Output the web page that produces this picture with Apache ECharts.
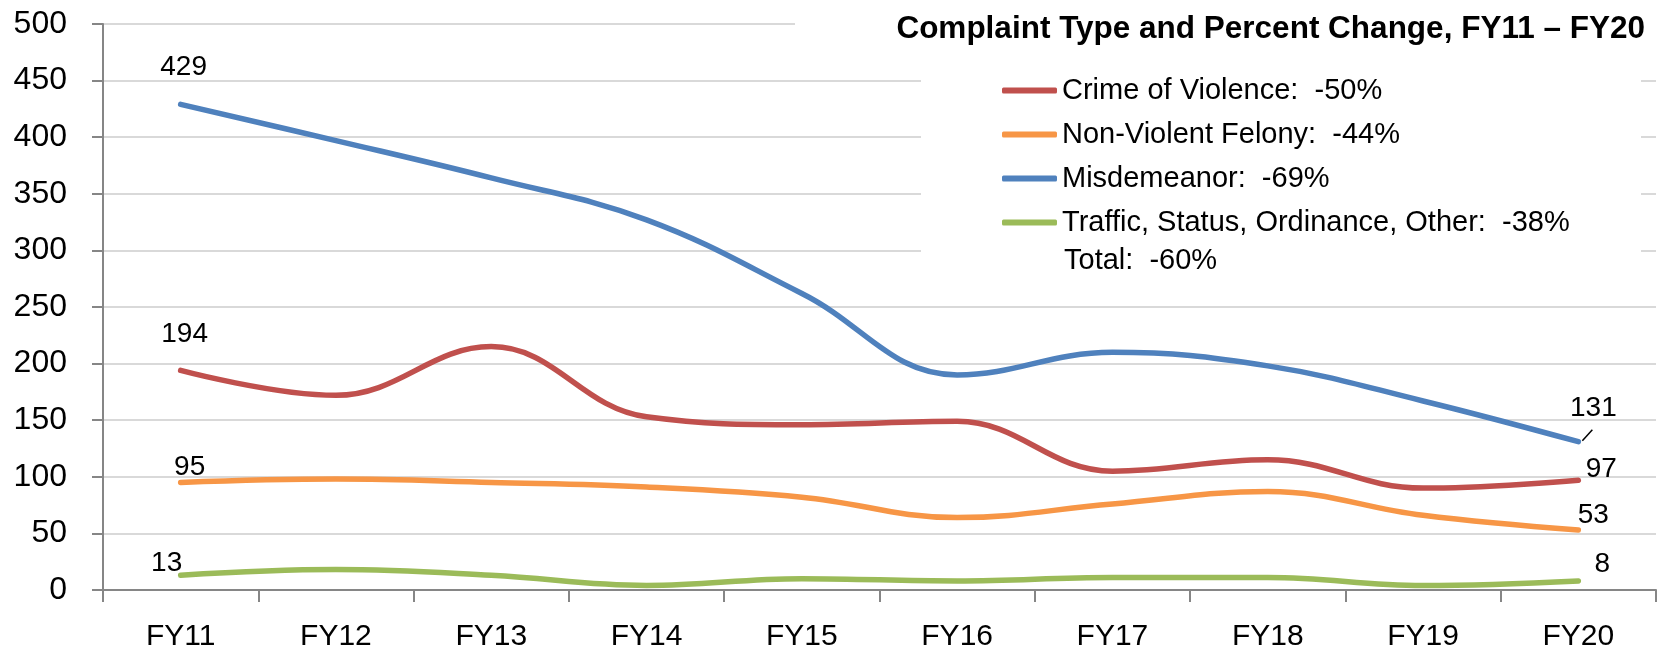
<!doctype html>
<html>
<head>
	<meta charset="UTF-8">
	<title>Complaint Type and Percent Change</title>
	<script src="https://cdn.jsdelivr.net/npm/echarts@6/dist/echarts.min.js"></script>
	<style>
		html, body { margin: 0; padding: 0; background: #fff; }
		#chart { width: 1674px; height: 652px; }
	</style>
</head>
<body>
	<div id="chart"></div>
	<script>
		var years = ['FY11', 'FY12', 'FY13', 'FY14', 'FY15', 'FY16', 'FY17', 'FY18', 'FY19', 'FY20'];
		var yTicks = [0, 50, 100, 150, 200, 250, 300, 350, 400, 450, 500];

		var seriesNames = ['Crime of Violence', 'Non-Violent Felony', 'Misdemeanor', 'Traffic, Status, Ordinance, Other'];
		var pctChange = [-50, -44, -69, -38];
		var totalChange = -60;

		var violence = [194, 172, 215, 153, 146, 149, 105, 115, 90, 97];
		var felony = [95, 98, 95, 91, 82, 64, 76, 87, 66, 53];
		var misdemeanor = [429, 397, 364, 327, 262, 190, 210, 198, 167, 131];
		var traffic = [13, 18, 13, 4, 10, 8, 11, 11, 4, 8];

		var FONT = '"Liberation Sans", Arial, sans-serif';
		var colors = ['#C0504D', '#F79646', '#4F81BD', '#9BBB59'];

		// label offsets for first / last point of each series (label centre relative to the point)
		var labelOffsets = [
			[[4, -36], [23, -11]],
			[[9, -15], [15, -15]],
			[[3, -37], [15, -33]],
			[[-14, -12], [24, -17]]
		];

		function buildData(values, si) {
			var last = values.length - 1;
			return values.map(function(v, i) {
				if (i !== 0 && i !== last) return v;
				return {
					value: v,
					label: {
						show: true,
						position: 'inside',
						offset: labelOffsets[si][i === 0 ? 0 : 1],
						fontSize: 28,
						color: '#000',
						fontFamily: FONT
					}
				};
			});
		}

		var allValues = [violence, felony, misdemeanor, traffic];
		var series = allValues.map(function(vals, si) {
			return {
				name: seriesNames[si],
				type: 'line',
				smooth: 0.4,
				symbol: 'circle',
				symbolSize: 1,
				showSymbol: true,
				lineStyle: { width: 5.5, color: colors[si], cap: 'round' },
				itemStyle: { color: colors[si] },
				label: { show: false },
				data: buildData(vals, si)
			};
		});

		var chart = echarts.init(document.getElementById('chart'));
		chart.setOption({
			animation: false,
			backgroundColor: '#fff',
			title: {
				text: 'Complaint Type and Percent Change, FY11 \u2013 FY20',
				right: 24,
				top: 8,
				textStyle: { fontSize: 31.5, fontWeight: 'bold', color: '#000', fontFamily: FONT }
			},
			legend: {
				orient: 'vertical',
				left: 997,
				top: 70,
				itemWidth: 55,
				itemHeight: 6,
				itemGap: 13,
				icon: 'roundRect',
				textStyle: { fontSize: 29, lineHeight: 31, color: '#000', fontFamily: FONT },
				formatter: function(name) {
					return name + ':  ' + pctChange[seriesNames.indexOf(name)] + '%';
				},
				data: seriesNames
			},
			grid: { left: 103, right: 18, top: 24, bottom: 62, containLabel: false },
			xAxis: {
				type: 'category',
				data: years,
				boundaryGap: true,
				axisLine: { lineStyle: { color: '#868686', width: 2 } },
				axisTick: { show: true, length: 12, lineStyle: { color: '#868686', width: 2 } },
				axisLabel: { fontSize: 30, color: '#000', margin: 32, fontFamily: FONT }
			},
			yAxis: {
				type: 'value',
				min: yTicks[0],
				max: yTicks[yTicks.length - 1],
				interval: 50,
				axisLine: { show: true, lineStyle: { color: '#868686', width: 2 } },
				axisTick: { show: true, length: 11, lineStyle: { color: '#868686', width: 2 } },
				axisLabel: { fontSize: 32, color: '#000', margin: 36, fontFamily: FONT },
				splitLine: { show: true, lineStyle: { color: '#d9d9d9', width: 2 } }
			},
			graphic: [
				{ id: 'titleBox', type: 'rect', z: 1, shape: { x: 795, y: 0, width: 879, height: 50 }, style: { fill: '#fff' } },
				{ id: 'legendBox', type: 'rect', z: 1, shape: { x: 921, y: 50, width: 720, height: 225 }, style: { fill: '#fff' } },
				{
					id: 'total', type: 'text', z: 5, x: 1064, y: 261,
					style: {
						text: 'Total:  ' + totalChange + '%',
						fontSize: 29, fill: '#000', fontFamily: FONT,
						verticalAlign: 'middle'
					}
				}
			],
			series: series
		});

		// small leader line from the last Misdemeanor point to its label
		var p = chart.convertToPixel({ seriesIndex: 2 }, [years.length - 1, misdemeanor[misdemeanor.length - 1]]);
		chart.setOption({
			graphic: [{
				id: 'leader', type: 'line', z: 5,
				shape: { x1: p[0] + 4, y1: p[1] - 1, x2: p[0] + 14, y2: p[1] - 12 },
				style: { stroke: '#000', lineWidth: 1.5 }
			}]
		});
	</script>
</body>
</html>
